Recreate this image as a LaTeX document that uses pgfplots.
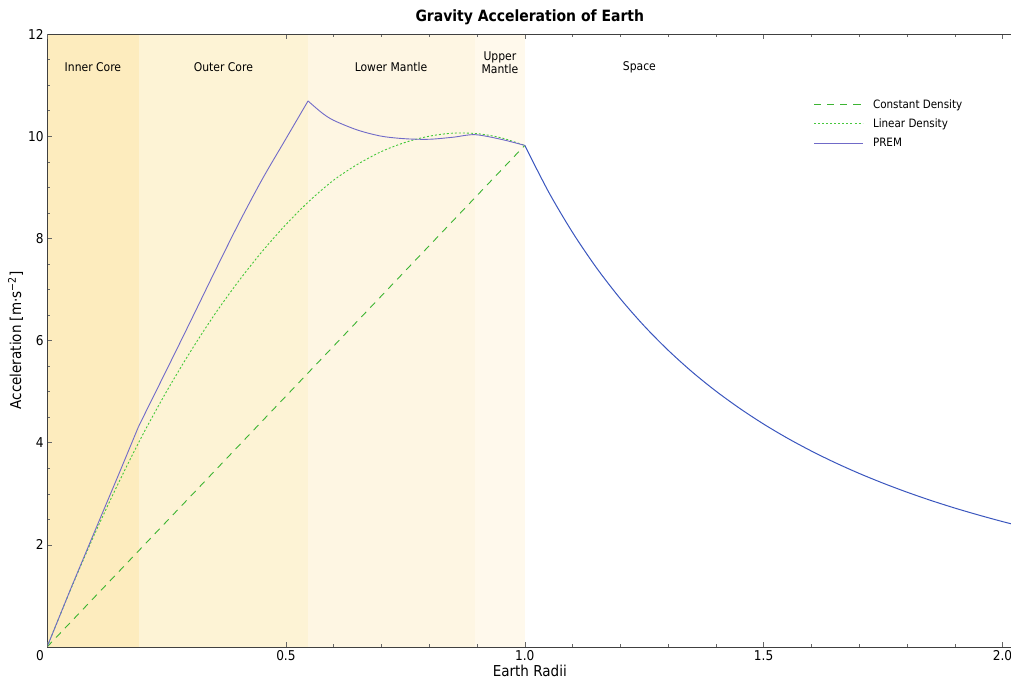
\documentclass[border=0pt]{standalone}
\usepackage{pgfplots}
\pgfplotsset{compat=1.18}
\usepackage{fontspec}
\setmainfont{DejaVu Sans Condensed}

\definecolor{innercore}{RGB}{253,236,190}
\definecolor{outercore}{RGB}{253,243,213}
\definecolor{lowermantle}{RGB}{254,246,227}
\definecolor{uppermantle}{RGB}{255,249,236}
\definecolor{premcol}{RGB}{112,106,200}
\definecolor{spacecol}{RGB}{58,86,190}
\definecolor{constcol}{RGB}{60,180,50}
\definecolor{lincol}{RGB}{70,200,60}

\begin{document}
\begin{tikzpicture}
\begin{axis}[
    scale only axis,
    width=964pt, height=612pt,
    xmin=0, xmax=2.021, ymin=0, ymax=12,
    axis on top,
    xtick={0.5,1,1.5,2}, xticklabels={0.5,1.0,1.5,2.0},
    extra x ticks={0}, extra x tick labels={0},
    extra x tick style={xticklabel style={xshift=-7pt}},
    minor x tick num=4,
    ytick={2,4,...,12}, minor y tick num=3,
    ytick pos=left,
    /pgf/number format/assume math mode=true,
    tick label style={font=\fontsize{13.5}{13.5}\selectfont},
    tick align=inside, major tick length=5pt, minor tick length=3pt,
    axis line style={black!75},
    every tick/.style={black!60},
    title={Gravity Acceleration of Earth},
    title style={font=\bfseries\fontsize{15.5}{15.5}\selectfont},
    xlabel={Earth Radii},
    ylabel={Acceleration [m·s\textsuperscript{−2}]},
    label style={font=\fontsize{15}{15}\selectfont},
    xlabel style={yshift=3pt},
    ylabel style={yshift=-2pt},
    legend style={at={(0.791,0.9)}, anchor=north west, draw=none, fill=none,
        font=\fontsize{11.5}{13}\selectfont, row sep=5pt},
    legend cell align=left,
    legend image code/.code={\draw[#1] (0pt,0pt) -- (48pt,0pt); \path (56pt,0pt);},
]

% layer bands
\addplot[fill=innercore, draw=none, forget plot] coordinates {(0,0) (0.1917,0) (0.1917,12) (0,12)} --cycle;
\addplot[fill=outercore, draw=none, forget plot] coordinates {(0.1917,0) (0.5463,0) (0.5463,12) (0.1917,12)} --cycle;
\addplot[fill=lowermantle, draw=none, forget plot] coordinates {(0.5463,0) (0.8955,0) (0.8955,12) (0.5463,12)} --cycle;
\addplot[fill=uppermantle, draw=none, forget plot] coordinates {(0.8955,0) (1,0) (1,12) (0.8955,12)} --cycle;

% outside the Earth
\addplot[spacecol, line width=1pt, smooth, forget plot] coordinates {
(1.0,9.82) (1.05,8.907) (1.1,8.116) (1.15,7.425) (1.2,6.819) (1.25,6.285)
(1.3,5.811) (1.35,5.388) (1.4,5.010) (1.45,4.671) (1.5,4.364) (1.55,4.087)
(1.6,3.836) (1.65,3.607) (1.7,3.398) (1.75,3.207) (1.8,3.031) (1.85,2.869)
(1.9,2.720) (1.95,2.583) (2.0,2.455) (2.05,2.337)};

\addplot[constcol, line width=0.9pt, dash pattern=on 7pt off 6pt, forget plot] coordinates {(0,0) (1,9.82)};

\addplot[lincol, line width=0.9pt, dash pattern=on 2pt off 2pt, smooth, forget plot] coordinates {
(0,0) (0.05,1.14) (0.1,2.22) (0.15,3.22) (0.2,4.15) (0.25,5.0) (0.3,5.78)
(0.35,6.5) (0.4,7.15) (0.45,7.74) (0.5,8.27) (0.55,8.74) (0.6,9.14)
(0.65,9.45) (0.7,9.7) (0.75,9.88) (0.8,10.0) (0.85,10.06) (0.9,10.05)
(0.95,9.97) (1.0,9.82)};

% PREM, drawn per layer so the kinks at the boundaries stay sharp
\addplot[premcol, line width=0.9pt, forget plot] coordinates {
(0,0) (0.05,1.15) (0.1,2.27) (0.15,3.38) (0.1917,4.32)};
\addplot[premcol, line width=0.9pt, smooth, forget plot] coordinates {
(0.1917,4.32) (0.25,5.42) (0.3,6.37) (0.35,7.33) (0.4,8.27) (0.45,9.15) (0.5,9.95) (0.5463,10.69)};
\addplot[premcol, line width=0.9pt, smooth, forget plot] coordinates {
(0.5463,10.69) (0.575,10.46) (0.6,10.31) (0.65,10.12) (0.7,10.0) (0.75,9.95)
(0.8,9.94) (0.85,9.98) (0.8955,10.03) (0.95,9.94) (1.0,9.82)};

\addlegendimage{constcol, line width=1pt, dash pattern=on 7pt off 6pt}
\addlegendentry{Constant Density}
\addlegendimage{lincol, line width=1pt, dash pattern=on 2pt off 2pt}
\addlegendentry{Linear Density}
\addlegendimage{premcol, line width=1pt}
\addlegendentry{PREM}

\node[font=\fontsize{12}{14}\selectfont] at (axis cs:0.096,11.35) {Inner Core};
\node[font=\fontsize{12}{14}\selectfont] at (axis cs:0.369,11.35) {Outer Core};
\node[font=\fontsize{12}{14}\selectfont] at (axis cs:0.72,11.35) {Lower Mantle};
\node[font=\fontsize{12}{13}\selectfont, align=center] at (axis cs:0.948,11.43) {Upper\\Mantle};
\node[font=\fontsize{12}{14}\selectfont] at (axis cs:1.24,11.35) {Space};
\end{axis}
\pgfresetboundingbox
\path[use as bounding box] ([xshift=-47pt,yshift=-40pt]current axis.south west) rectangle ([xshift=-1.5pt,yshift=34pt]current axis.north east);
\end{tikzpicture}
\end{document}
